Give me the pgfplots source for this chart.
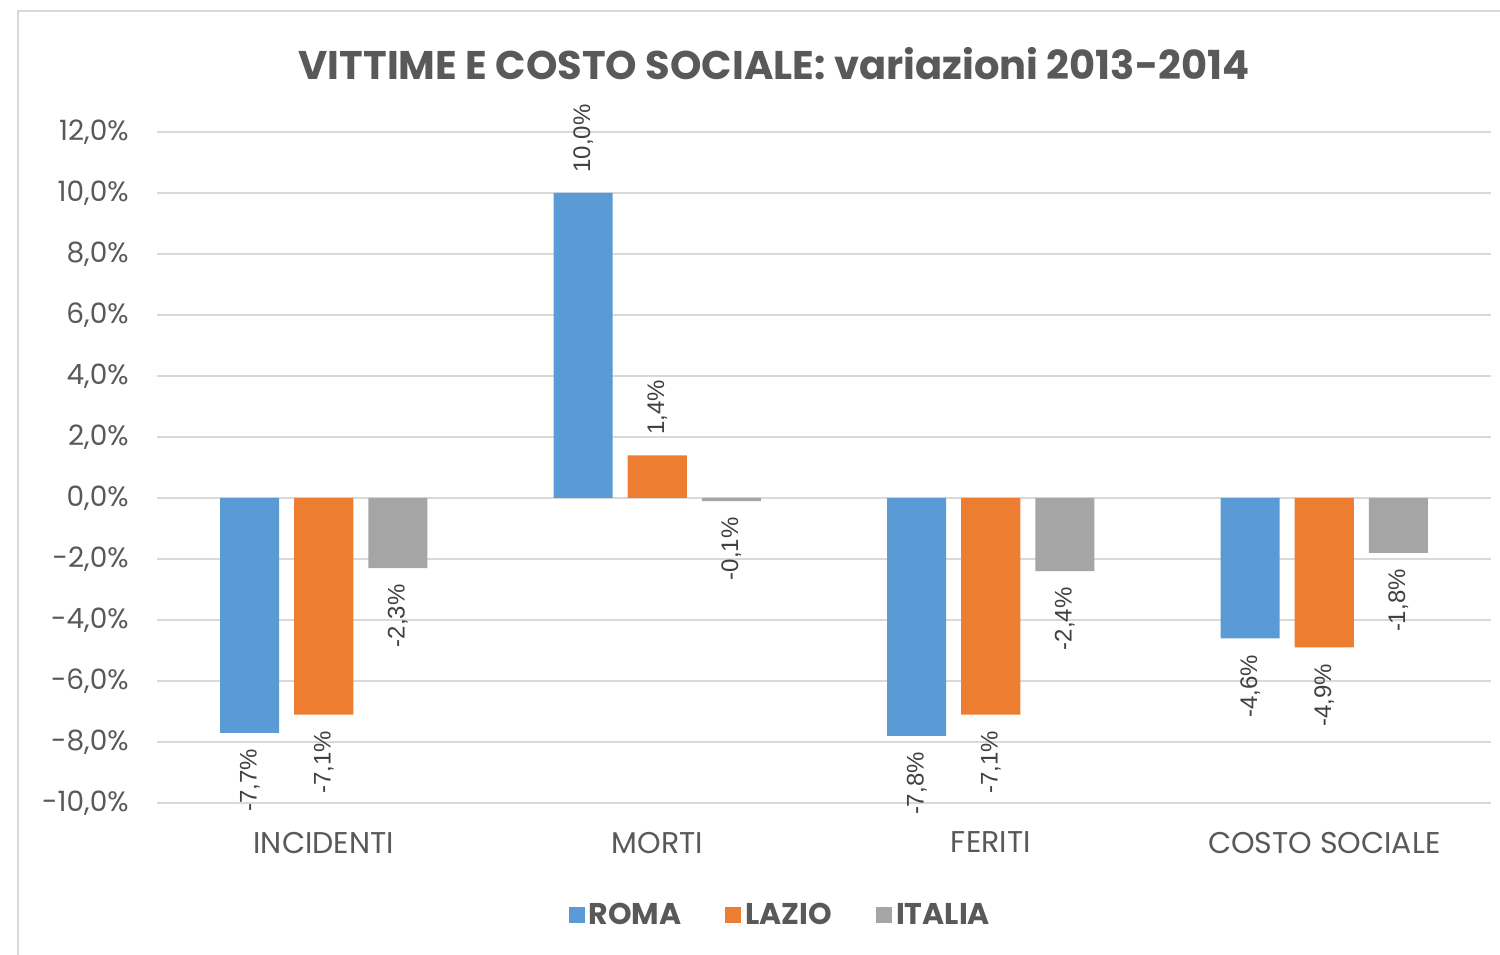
\documentclass[border=0pt]{standalone}
\usepackage{pgfplots}
\pgfplotsset{compat=1.18}
\usepackage{fontspec}
\setmainfont{Poppins}
\newfontfamily\labfont{Liberation Sans}
\definecolor{roma}{HTML}{5B9BD5}
\definecolor{lazio}{HTML}{ED7D31}
\definecolor{italia}{HTML}{A5A5A5}
\definecolor{txt}{HTML}{595959}
\definecolor{gridc}{HTML}{D9D9D9}
\definecolor{lab}{HTML}{404040}
\pgfplotsset{
  ybar legend/.style={legend image code/.code={\fill[##1] (0pt,-4pt) rectangle (8pt,4pt);}},
  lbl/.style={draw=none, fill=none, forget plot, nodes near coords, point meta=explicit symbolic,
    every node near coord/.append style={rotate=90, inner ysep=0pt, text=lab,
      font=\labfont\fontsize{12}{14}\selectfont}},
  neglab/.style={lbl, every node near coord/.append style={anchor=east, inner xsep=8pt}},
  poslab/.style={lbl, every node near coord/.append style={anchor=west, inner xsep=10pt}},
}
\begin{document}
\begin{tikzpicture}
\path[use as bounding box] (0,0) rectangle (750pt,477pt);
\fill[white] (0,0) rectangle (750pt,477pt);
\draw[gridc, line width=1.2pt] (9pt,-2pt) -- (9pt,471.5pt) -- (752pt,471.5pt);
\node[text=txt, font=\fontsize{20}{24}\selectfont\bfseries] at (387pt,445pt) {VITTIME E COSTO SOCIALE: variazioni 2013-2014};
\begin{axis}[
  at={(78.5pt,75.5pt)}, anchor=south west,
  scale only axis, width=667pt, height=335.5pt,
  xmin=-0.5, xmax=3.5, ymin=-10, ymax=12,
  ybar, bar width=0.177,
  axis line style={draw=none}, tick style={draw=none},
  ymajorgrids, major grid style={gridc, line width=0.8pt},
  ytick={-10,-8,...,12},
  yticklabels={{-10,0\%},{-8,0\%},{-6,0\%},{-4,0\%},{-2,0\%},{0,0\%},{2,0\%},{4,0\%},{6,0\%},{8,0\%},{10,0\%},{12,0\%}},
  yticklabel style={text=txt, font=\fontsize{14}{16}\selectfont, inner sep=0pt},
  yticklabel shift=14pt,
  xtick={0,1,2,3},
  xticklabels={INCIDENTI,MORTI,FERITI,COSTO SOCIALE},
  xticklabel style={text=txt, font=\fontsize{15}{18}\selectfont, inner sep=0pt},
  xticklabel shift=10pt,
  clip=false,
  legend style={at={(0.468,-0.167)}, anchor=center, draw=none, fill=none, legend columns=3,
    font=\fontsize{15}{18}\selectfont\bfseries, text=txt,
    /tikz/every even column/.append style={column sep=20pt}},
]
\addplot[fill=roma, draw=none, bar shift=-0.222] coordinates {(0,-7.7) (1,10.0) (2,-7.8) (3,-4.6)};
\addlegendentry{ROMA}
\addplot[fill=lazio, draw=none, bar shift=0] coordinates {(0,-7.1) (1,1.4) (2,-7.1) (3,-4.9)};
\addlegendentry{LAZIO}
\addplot[fill=italia, draw=none, bar shift=0.222] coordinates {(0,-2.3) (1,-0.1) (2,-2.4) (3,-1.8)};
\addlegendentry{ITALIA}
% labels
\addplot[neglab, bar shift=-0.222] coordinates {(0,-7.7) [-7,7\%] (2,-7.8) [-7,8\%] (3,-4.6) [-4,6\%]};
\addplot[poslab, bar shift=-0.222] coordinates {(1,10.0) [10,0\%]};
\addplot[neglab, bar shift=0] coordinates {(0,-7.1) [-7,1\%] (2,-7.1) [-7,1\%] (3,-4.9) [-4,9\%]};
\addplot[poslab, bar shift=0] coordinates {(1,1.4) [1,4\%]};
\addplot[neglab, bar shift=0.222] coordinates {(0,-2.3) [-2,3\%] (1,-0.1) [-0,1\%] (2,-2.4) [-2,4\%] (3,-1.8) [-1,8\%]};
\end{axis}
\end{tikzpicture}
\end{document}
